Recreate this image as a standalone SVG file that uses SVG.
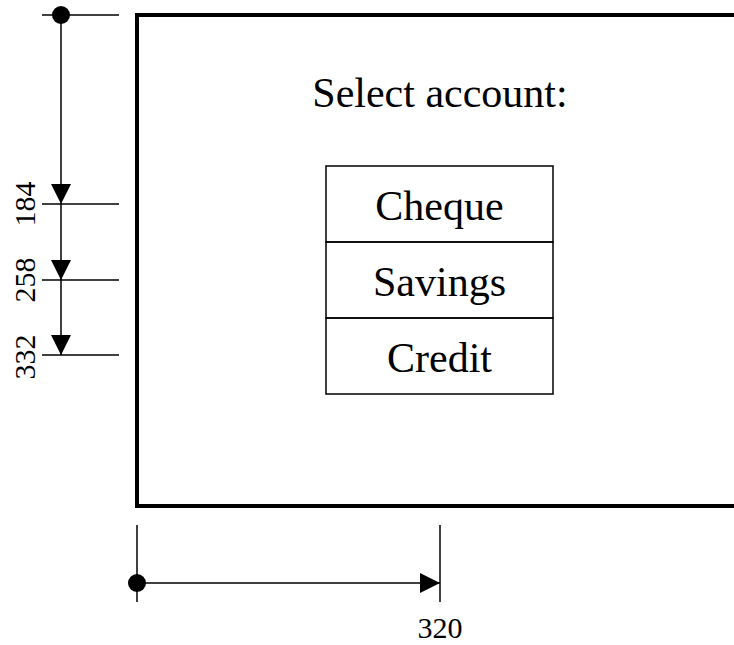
<svg xmlns="http://www.w3.org/2000/svg" width="734" height="645" viewBox="0 0 734 645">
  <style>
    .frame { fill: none; stroke: #000; stroke-width: 4; }
    .box { fill: none; stroke: #000; stroke-width: 1.5; }
    .dim { fill: none; stroke: #000; stroke-width: 1.5; }
    .txt { font-family: "Liberation Serif", "Times New Roman", serif; fill: #000; }
    .big { font-size: 42px; text-anchor: middle; }
    .num { font-size: 30px; text-anchor: middle; }
  </style>
  <defs>
    <marker id="arrow" viewBox="0 0 20 20" refX="20" refY="10" markerWidth="20" markerHeight="20" markerUnits="userSpaceOnUse" orient="auto">
      <path d="M0,0 L20,10 L0,20 Z" fill="#000"/>
    </marker>
  </defs>

  <!-- screen frame (open on the right) -->
  <g id="screen">
    <path class="frame" d="M740,15 H137 V506 H740"/>
    <text class="txt big" x="440" y="107">Select account:</text>
  </g>

  <!-- account choices -->
  <g id="cheque">
    <rect class="box" x="326" y="166" width="227" height="76"/>
    <text class="txt big" x="439.5" y="220">Cheque</text>
  </g>
  <g id="savings">
    <rect class="box" x="326" y="242" width="227" height="76"/>
    <text class="txt big" x="439.5" y="296">Savings</text>
  </g>
  <g id="credit">
    <rect class="box" x="326" y="318" width="227" height="76"/>
    <text class="txt big" x="439.5" y="372">Credit</text>
  </g>

  <!-- dimension lines -->
  <g id="connectors">
    <!-- vertical offsets -->
    <line class="dim" x1="42" y1="15" x2="119" y2="15"/>
    <line class="dim" x1="42" y1="204" x2="119" y2="204"/>
    <line class="dim" x1="42" y1="280" x2="119" y2="280"/>
    <line class="dim" x1="42" y1="355" x2="119" y2="355"/>
    <circle cx="61" cy="15" r="9" fill="#000"/>
    <line class="dim" x1="61" y1="15" x2="61" y2="204" marker-end="url(#arrow)"/>
    <line class="dim" x1="61" y1="204" x2="61" y2="280" marker-end="url(#arrow)"/>
    <line class="dim" x1="61" y1="280" x2="61" y2="355" marker-end="url(#arrow)"/>

    <!-- horizontal offset -->
    <line class="dim" x1="137" y1="525" x2="137" y2="602"/>
    <line class="dim" x1="440" y1="525" x2="440" y2="602"/>
    <circle cx="137" cy="583" r="9" fill="#000"/>
    <line class="dim" x1="137" y1="583" x2="440" y2="583" marker-end="url(#arrow)"/>
  </g>

  <!-- dimension values -->
  <g id="labels">
    <text class="txt num" transform="translate(35,204) rotate(-90)">184</text>
    <text class="txt num" transform="translate(35,280) rotate(-90)">258</text>
    <text class="txt num" transform="translate(35,357) rotate(-90)">332</text>
    <text class="txt num" x="440" y="638">320</text>
  </g>
</svg>
